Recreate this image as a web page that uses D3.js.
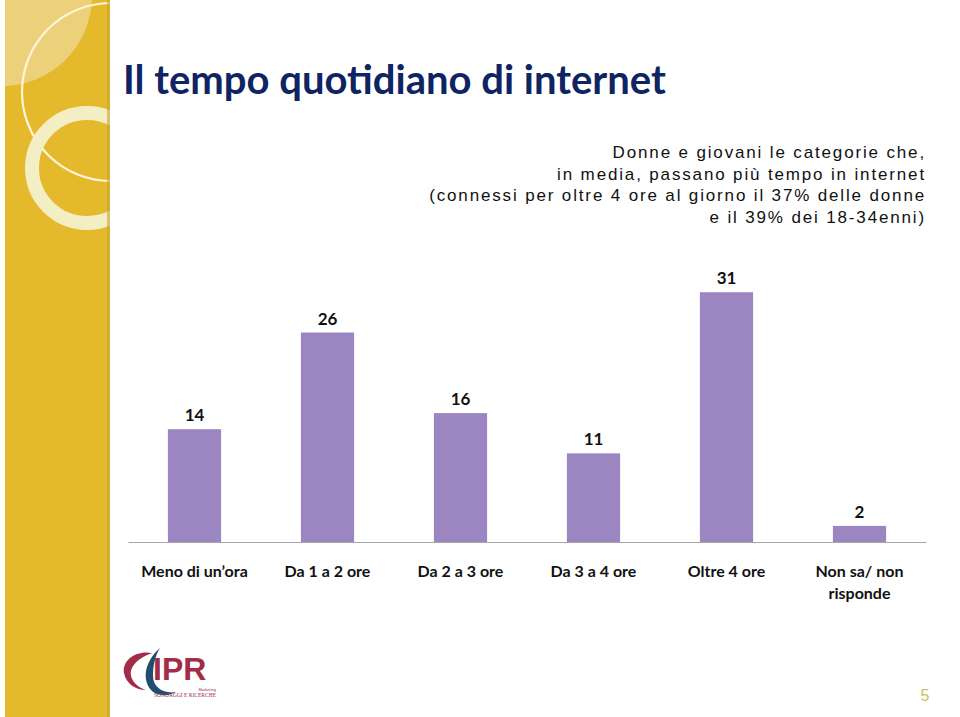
<!DOCTYPE html>
<html><head><meta charset="utf-8">
<script src="https://cdn.jsdelivr.net/npm/d3@7"></script>
<style>html,body{margin:0;padding:0;background:#fff;overflow:hidden}</style>
</head><body>
<svg id="chart" width="960" height="717"></svg>
<script>
const categories = ["Meno di un’ora", "Da 1 a 2 ore", "Da 2 a 3 ore", "Da 3 a 4 ore", "Oltre 4 ore", "Non sa/ non risponde"];
const categoryLines = [["Meno di un’ora"], ["Da 1 a 2 ore"], ["Da 2 a 3 ore"], ["Da 3 a 4 ore"], ["Oltre 4 ore"], ["Non sa/ non", "risponde"]];
const values = [14, 26, 16, 11, 31, 2];
const titleText = "Il tempo quotidiano di internet";
const subtitleLines = ["Donne e giovani le categorie che,", "in media, passano più tempo in internet", "(connessi per oltre 4 ore al giorno il 37% delle donne", "e il 39% dei 18-34enni)"];
const pageNumber = "5";

const svg = d3.select("#chart");

// decorative strip
const defs = svg.append("defs");
defs.append("clipPath").attr("id", "stripClip").append("rect").attr("x", 5).attr("y", 0).attr("width", 105).attr("height", 717);
const strip = svg.append("g").attr("clip-path", "url(#stripClip)");
strip.append("rect").attr("x", 5).attr("y", 0).attr("width", 105).attr("height", 717).attr("fill", "#E5B92C");
strip.append("circle").attr("cx", 2).attr("cy", -4).attr("r", 90).attr("fill", "#EDD488").attr("opacity", 0.85);
strip.append("circle").attr("cx", 111).attr("cy", 92).attr("r", 89).attr("fill", "none").attr("stroke", "#FBF6D8").attr("stroke-width", 2.2);
strip.append("circle").attr("cx", 87).attr("cy", 168).attr("r", 55).attr("fill", "none").attr("stroke", "#F3EEC4").attr("stroke-width", 14);
strip.append("rect").attr("x", 107).attr("y", 0).attr("width", 3).attr("height", 717).attr("fill", "#C9A32E").attr("opacity", 0.6);

// title
svg.append("text").attr("x", 123).attr("y", 94)
  .attr("font-family", "Lato, 'Open Sans', sans-serif").attr("font-weight", 700)
  .attr("font-size", 40).attr("fill", "#0E2463").text(titleText);

// subtitle
const sub = svg.append("text").attr("text-anchor", "end")
  .attr("font-family", "'Liberation Sans', Arial, sans-serif").attr("font-size", 17)
  .attr("letter-spacing", 1.85).attr("fill", "#111");
subtitleLines.forEach((l, i) => {
  sub.append("tspan").attr("x", 926).attr("y", 158 + i * 21.5).text(l);
});

// chart
const x = d3.scaleBand().domain(categories).range([128, 926]).paddingInner(0.6).paddingOuter(0.3);
const y = d3.scaleLinear().domain([0, 35]).range([542, 260]);

svg.append("g").selectAll("rect").data(values).join("rect")
  .attr("x", (d, i) => x(categories[i]))
  .attr("y", d => y(d))
  .attr("width", x.bandwidth())
  .attr("height", d => y(0) - y(d))
  .attr("fill", "#9B86C2");

svg.append("g").selectAll("text").data(values).join("text")
  .attr("x", (d, i) => x(categories[i]) + x.bandwidth() / 2)
  .attr("y", d => y(d) - 8)
  .attr("text-anchor", "middle")
  .attr("font-family", "Lato, 'Open Sans', sans-serif").attr("font-weight", 700)
  .attr("font-size", 17).attr("fill", "#111").text(d => d);

const axis = svg.append("g").attr("transform", "translate(0,542)")
  .call(d3.axisBottom(x).tickSize(0).tickFormat(""));
axis.select(".domain").attr("stroke", "#A6A6A6").attr("stroke-width", 1.2);

const lab = svg.append("g").selectAll("text").data(categories).join("text")
  .attr("text-anchor", "middle")
  .attr("font-family", "Lato, 'Open Sans', sans-serif").attr("font-weight", 700)
  .attr("font-size", 16).attr("fill", "#111");
lab.each(function(c, i) {
  const t = d3.select(this);
  categoryLines[i].forEach((l, j) => {
    t.append("tspan").attr("x", x(c) + x.bandwidth() / 2).attr("y", 577 + j * 22).text(l);
  });
});

// logo
const logo = svg.append("g");
logo.append("path").attr("d", "M152,653 C136,650 122,660 124,673 C126,684 136,690 146,690 C134,686 128,676 132,668 C136,660 144,656 152,653 Z").attr("fill", "#A32C48");
logo.append("path").attr("d", "M160,648 C146,660 141,678 151,690 C157,697 170,696 176,692 C164,694 153,688 153,676 C153,666 155,656 160,648 Z").attr("fill", "#1F4E6E");
logo.append("text").attr("x", 153).attr("y", 680).attr("font-family", "'Liberation Sans', Arial, sans-serif")
  .attr("font-weight", 700).attr("font-size", 32).attr("fill", "#A32C48").text("IPR");
logo.append("text").attr("x", 216).attr("y", 691).attr("text-anchor", "end").attr("font-family", "'Liberation Sans', Arial, sans-serif")
  .attr("font-size", 4).attr("fill", "#A32C48").text("Marketing");
logo.append("text").attr("x", 216).attr("y", 697).attr("text-anchor", "end").attr("font-family", "'Liberation Serif', serif")
  .attr("font-size", 5.5).attr("fill", "#A32C48").text("SONDAGGI E RICERCHE");

// page number
svg.append("text").attr("x", 925).attr("y", 701).attr("text-anchor", "middle")
  .attr("font-family", "'Liberation Sans', Arial, sans-serif").attr("font-size", 16).attr("fill", "#C9C25A").text(pageNumber);
</script>
</body></html>
